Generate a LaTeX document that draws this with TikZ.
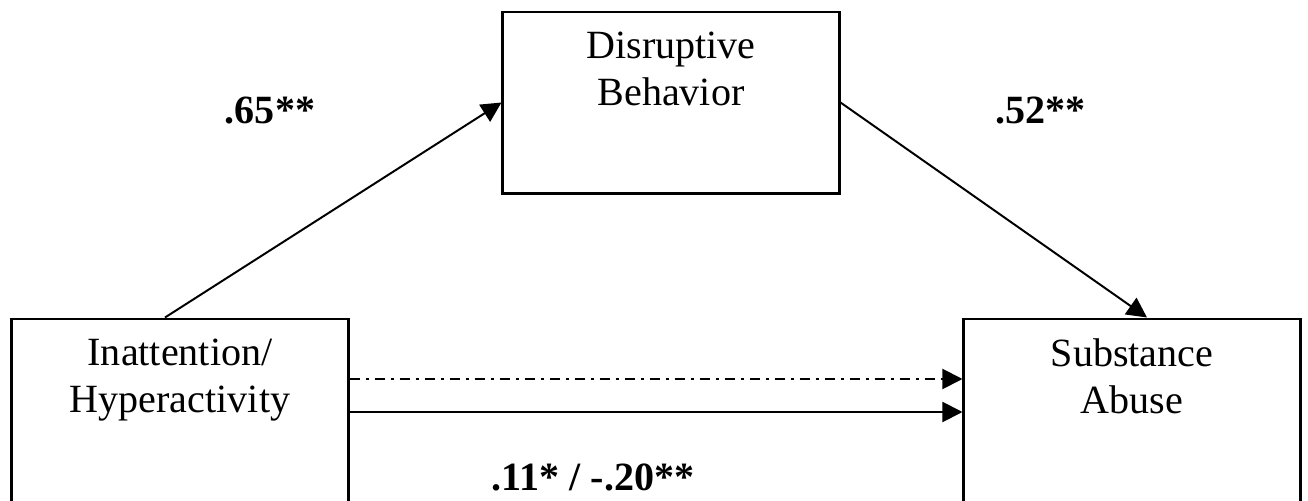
\documentclass[tikz,border=0pt]{standalone}
\usepackage{fontspec}
\setmainfont{Liberation Serif}
\usetikzlibrary{arrows.meta}
\begin{document}
\begin{tikzpicture}[x=0.025cm,y=-0.025cm]
		% Styles (MODIFIABLES)
		\tikzstyle{boite}=[draw,line width=2.1pt,minimum width=8.4cm,minimum height=4.75cm,inner sep=0pt]
		\tikzstyle{fleche}=[-{Triangle[length=0.5cm,width=0.5cm]},line width=1.4pt]
		\tikzstyle{pointille}=[dash pattern=on 0.25cm off 0.15cm on 0.075cm off 0.15cm]
		\tikzstyle{texte}=[font=\fontsize{28.5pt}{33.4pt}\selectfont,align=center,inner sep=0pt]
		\tikzstyle{coef}=[texte,font=\fontsize{28.5pt}{33.4pt}\selectfont\bfseries]
		% Dimensions (MODIFIABLES)
		\def\DecalageTexte{-0.525cm}
		\def\DecalageFleche{0.375cm}
		\def\DecalageDirect{0.875cm}
		% Cadre
		\useasboundingbox (0,0) rectangle (1308,500);
		\clip (0,0) rectangle (1308,500);
		% Noeuds
		\node[boite] (Inatt) at (180,414) {};
		\node[boite,minimum height=4.525cm] (Disr) at (671,102.5) {};
		\node[boite] (Subst) at (1132,414) {};
		%
		\node[texte,anchor=north] (tInatt) at ([yshift=\DecalageTexte]Inatt.north) {Inattention/\\Hyperactivity};
		\node[texte,anchor=north] (tDisr) at ([yshift=\DecalageTexte]Disr.north) {Disruptive\\Behavior};
		\node[texte,anchor=north] (tSubst) at ([yshift=\DecalageTexte]Subst.north) {Substance\\Abuse};
		%
		\node[coef,anchor=base] (c1) at (270,123) {.65**};
		\node[coef,anchor=base west] (c2) at (995,123) {.52**};
		\node[coef,anchor=base] (c3) at (593,490) {.11* / -.20**};
		% Arcs (MODIFIABLES : Styles)
		\draw[fleche] ([xshift=-\DecalageFleche]Inatt.north) -- (Disr.west);
		\draw[fleche] (Disr.east) -- ([xshift=\DecalageFleche]Subst.north);
		\draw[fleche,pointille] ([yshift=\DecalageDirect]Inatt.east) -- ([yshift=\DecalageDirect]Subst.west);
		\draw[fleche] ([yshift=0.05cm]Inatt.east) -- ([yshift=0.05cm]Subst.west);
	\end{tikzpicture}
\end{document}
